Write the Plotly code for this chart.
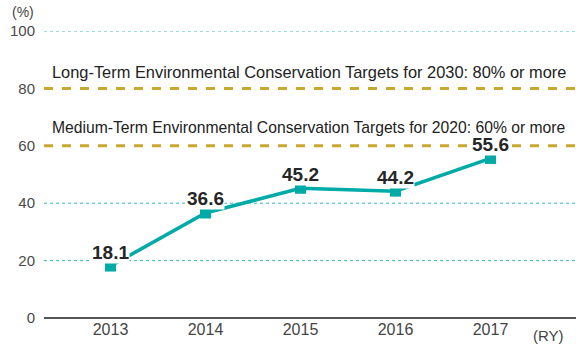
import plotly.graph_objects as go

# Datos
anios = [2013, 2014, 2015, 2016, 2017]
valores = [18.1, 36.6, 45.2, 44.2, 55.6]
etiquetas = ['18.1', '36.6', '45.2', '44.2', '55.6']
metas_valor = [80, 60]
metas_texto = [
    'Long-Term Environmental Conservation Targets for 2030: 80% or more',
    'Medium-Term Environmental Conservation Targets for 2020: 60% or more',
]
ticks_y = [0, 20, 40, 60, 80, 100]

TEAL = '#00aaa7'
DORADO = '#c9a831'
FUENTE = 'Liberation Sans, Arial, sans-serif'

fig = go.Figure()

# Líneas de referencia punteadas (20, 40, 100)
for v in [20, 40, 100]:
    fig.add_shape(type='line', xref='paper', x0=0, x1=1, yref='y', y0=v, y1=v,
                  line=dict(color='#35bcbc', width=1, dash='dot'), layer='below')

# Metas: líneas discontinuas doradas
for v in metas_valor:
    fig.add_shape(type='line', xref='paper', x0=0, x1=1, yref='y', y0=v, y1=v,
                  line=dict(color=DORADO, width=3, dash='dash'), layer='below')

fig.add_trace(go.Scatter(
    x=anios, y=valores, mode='lines+markers',
    line=dict(color=TEAL, width=3.5),
    marker=dict(symbol='square', size=11, color=TEAL),
    showlegend=False, hoverinfo='skip',
))

# Etiquetas de valores
for x, y, t in zip(anios, valores, etiquetas):
    fig.add_annotation(x=x, y=y, text='<b>%s</b>' % t, showarrow=False,
                       yshift=14, yanchor='middle', bgcolor='white', borderpad=0,
                       font=dict(size=19, color='#262626', family=FUENTE))

# Textos de las metas (encima de las etiquetas)
for v, t, tam, desp in zip(metas_valor, metas_texto, [16.4, 15.7], [16, 18]):
    fig.add_annotation(x=0.011, xref='paper', xanchor='left', y=v, yref='y',
                       yshift=desp, yanchor='middle', text=t, showarrow=False,
                       font=dict(size=tam, color='#222222', family=FUENTE))

fig.add_annotation(x=0, xref='paper', xanchor='right', xshift=-8, y=1, yref='paper',
                   yshift=19, yanchor='middle', text='(%)', showarrow=False,
                   font=dict(size=14, color='#444444', family=FUENTE))
fig.add_annotation(x=1, xref='paper', xanchor='right', xshift=-10, y=0, yref='paper',
                   yshift=-17, yanchor='middle', text='(RY)', showarrow=False,
                   font=dict(size=15, color='#444444', family=FUENTE))

fig.update_xaxes(range=[2012.3, 2017.9], tickvals=anios, ticktext=[str(a) for a in anios],
                 showgrid=False, zeroline=False, showline=False, ticks='',
                 tickfont=dict(size=16, color='#444444', family=FUENTE))
fig.update_yaxes(range=[0, 100], tickvals=ticks_y, showgrid=False, zeroline=True,
                 zerolinecolor='#555555', zerolinewidth=1.5, showline=False,
                 ticks='', ticklabelstandoff=8,
                 tickfont=dict(size=15, color='#4a4a4a', family=FUENTE))

fig.update_layout(
    width=576, height=348,
    margin=dict(l=44, r=0, t=31, b=30),
    paper_bgcolor='white', plot_bgcolor='white',
)

# quitar el margen por defecto del body
fig.write_html('out.html', config={'displayModeBar': False},
               post_script="document.body.style.margin='0';")
